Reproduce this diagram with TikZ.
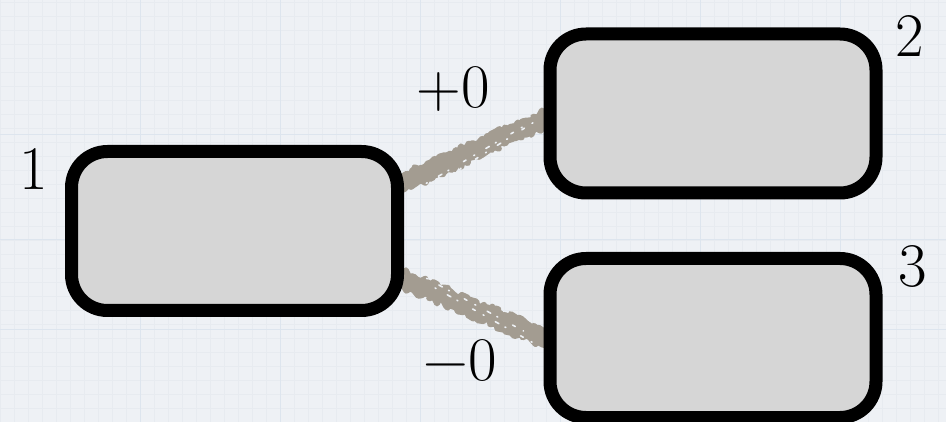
\documentclass[tikz,border=0pt]{standalone}
\usetikzlibrary{decorations.pathmorphing,backgrounds}
\definecolor{paper}{HTML}{EEF1F5}
\definecolor{gridminor}{HTML}{E7EBF0}
\definecolor{gridmajor}{HTML}{DDE5EE}
\definecolor{boxfill}{HTML}{D6D6D6}
\definecolor{conncol}{HTML}{A39C91}
\tikzset{
  box/.style={draw=black, line width=13pt, fill=boxfill, rounded corners=36pt,
    minimum width=326pt, minimum height=159pt, inner sep=0pt},
  lbl/.style={font=\fontsize{62}{70}\selectfont, inner sep=0pt},
  rough/.style={draw=conncol, line cap=round, line join=round, decorate,
    decoration={random steps, segment length=3pt, amplitude=3pt}},
  speck/.style={draw=paper, line width=1.6pt, line cap=round,
    dash pattern=on 3pt off 9pt on 1pt off 13pt on 4pt off 7pt on 1pt off 17pt},
}
\begin{document}
\begin{tikzpicture}[x=1pt,y=-1pt]
\pgfmathsetseed{4242}
\useasboundingbox (0,0) rectangle (946,422);
\node[box] (b1) at (234.5,231) {};
\node[box] (b2) at (713,113.5) {};
\node[box] (b3) at (713,338) {};
\node[lbl] (l1) at (34,169) {1};
\node[lbl] (l2) at (910,36) {2};
\node[lbl] (l3) at (913,267) {3};
\node[lbl] (lp) at (453,89) {+0};
\node[lbl] (lm) at (460,361) {−0};
\begin{scope}[on background layer]
  \fill[paper] (0,0) rectangle (946,422);
  \begin{scope}
    \clip (0,0) rectangle (946,422);
    \foreach \i in {0,14,...,946} \draw[gridminor, line width=0.5pt] (\i,0) -- (\i,422);
    \foreach \j in {2,16,...,422} \draw[gridminor, line width=0.5pt] (0,\j) -- (946,\j);
    \foreach \i in {140,280,420,560,700,840} \draw[gridmajor, line width=1pt] (\i,0) -- (\i,422);
    \foreach \j in {135,240,330} \draw[gridmajor, line width=1pt] (0,\j) -- (946,\j);
  \end{scope}
  \draw[draw=conncol, line width=14pt] (b1.16) -- (b2.182);
  \draw[draw=conncol, line width=14pt] (b1.-16) -- (b3.west);
  \foreach \off in {-7,-4,0,4,7}{
    \draw[rough, line width=6pt]
      ([yshift=\off pt]b1.16) -- ([yshift=\off pt]b2.182);
    \draw[rough, line width=6pt]
      ([yshift=\off pt]b1.-16) -- ([yshift=\off pt]b3.west);
  }
  \draw[speck] ([yshift=-7pt,xshift=12pt]b1.16) -- ([yshift=-7pt,xshift=-20pt]b2.182);
  \draw[speck, dash phase=6pt] ([yshift=-3pt,xshift=30pt]b1.16) -- ([yshift=-3pt,xshift=-10pt]b2.182);
  \draw[speck] ([yshift=7pt,xshift=12pt]b1.-16) -- ([yshift=7pt,xshift=-20pt]b3.west);
  \draw[speck, dash phase=5pt] ([yshift=-5pt,xshift=25pt]b1.-16) -- ([yshift=-5pt,xshift=-10pt]b3.west);
\end{scope}
\end{tikzpicture}
\end{document}
